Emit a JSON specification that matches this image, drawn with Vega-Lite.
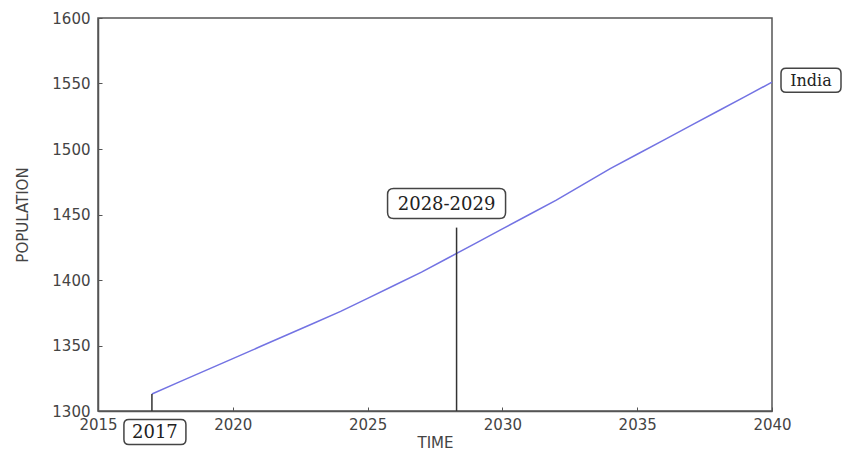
{
  "$schema": "https://vega.github.io/schema/vega-lite/v6.json",
  "autosize": "none",
  "width": 674,
  "height": 393,
  "padding": {"left": 98, "top": 18, "right": 71, "bottom": 39},
  "background": "white",
  "config": {
    "view": {"stroke": "#555", "strokeWidth": 1.5},
    "axis": {
      "grid": false,
      "domainColor": "#555",
      "domainWidth": 1.5,
      "tickColor": "#555",
      "tickSize": -4,
      "labelFlush": false,
      "labelFont": "DejaVu Sans",
      "labelFontSize": 15,
      "labelColor": "#444",
      "titleFont": "DejaVu Sans",
      "titleFontSize": 15,
      "titleFontWeight": "normal",
      "titleColor": "#444"
    }
  },
  "datasets": {
    "india": [
      {"year": 2017, "population": 1313},
      {"year": 2018, "population": 1322},
      {"year": 2019, "population": 1331},
      {"year": 2020, "population": 1340},
      {"year": 2021, "population": 1349},
      {"year": 2022, "population": 1358},
      {"year": 2023, "population": 1367},
      {"year": 2024, "population": 1376},
      {"year": 2025, "population": 1386},
      {"year": 2026, "population": 1396},
      {"year": 2027, "population": 1406},
      {"year": 2028, "population": 1417},
      {"year": 2029, "population": 1428},
      {"year": 2030, "population": 1439},
      {"year": 2031, "population": 1450},
      {"year": 2032, "population": 1461},
      {"year": 2033, "population": 1473},
      {"year": 2034, "population": 1485},
      {"year": 2035, "population": 1496},
      {"year": 2036, "population": 1507},
      {"year": 2037, "population": 1518},
      {"year": 2038, "population": 1529},
      {"year": 2039, "population": 1540},
      {"year": 2040, "population": 1551}
    ],
    "markers": [
      {"year": 2017, "from": 1300, "to": 1313},
      {"year": 2028.3, "from": 1300, "to": 1440}
    ],
    "notes": [
      {"label": "2017", "year": 2017, "population": 1300},
      {"label": "2028-2029", "year": 2028.3, "population": 1440},
      {"label": "India", "year": 2040, "population": 1551}
    ]
  },
  "encoding": {
    "x": {
      "field": "year",
      "type": "quantitative",
      "scale": {"domain": [2015, 2040], "nice": false, "zero": false},
      "axis": {"title": "TIME", "values": [2015, 2020, 2025, 2030, 2035, 2040], "format": "d", "labelPadding": 10, "titlePadding": 3}
    },
    "y": {
      "field": "population",
      "type": "quantitative",
      "scale": {"domain": [1300, 1600], "nice": false, "zero": false},
      "axis": {"title": "POPULATION", "values": [1300, 1350, 1400, 1450, 1500, 1550, 1600], "format": "d", "labelPadding": 12, "titlePadding": 21}
    }
  },
  "layer": [
    {
      "data": {"name": "india"},
      "mark": {"type": "line", "color": "#7373e3", "strokeWidth": 1.5},
      "encoding": {}
    },
    {
      "data": {"name": "markers"},
      "mark": {"type": "rule", "color": "#333", "strokeWidth": 1.5},
      "encoding": {
        "y": {"field": "from", "type": "quantitative"},
        "y2": {"field": "to"}
      }
    },
    {
      "data": {"name": "notes"},
      "transform": [{"filter": "datum.label === '2017'"}],
      "mark": {"type": "point", "filled": true, "fill": "white", "opacity": 1, "stroke": "#444", "strokeWidth": 1.5, "size": 4, "xOffset": 3, "yOffset": 21,
        "shape": "M-26,-12.5H26Q31,-12.5 31,-7.5V7.5Q31,12.5 26,12.5H-26Q-31,12.5 -31,7.5V-7.5Q-31,-12.5 -26,-12.5Z"},
      "encoding": {}
    },
    {
      "data": {"name": "notes"},
      "transform": [{"filter": "datum.label === '2028-2029'"}],
      "mark": {"type": "point", "filled": true, "fill": "white", "opacity": 1, "stroke": "#444", "strokeWidth": 1.5, "size": 4, "xOffset": -10, "yOffset": -24,
        "shape": "M-53,-15H53Q59,-15 59,-9V9Q59,15 53,15H-53Q-59,15 -59,9V-9Q-59,-15 -53,-15Z"},
      "encoding": {}
    },
    {
      "data": {"name": "notes"},
      "transform": [{"filter": "datum.label === 'India'"}],
      "mark": {"type": "point", "filled": true, "fill": "white", "opacity": 1, "stroke": "#444", "strokeWidth": 1.5, "size": 4, "xOffset": 39, "yOffset": -2,
        "shape": "M-25,-12H25Q30,-12 30,-7V7Q30,12 25,12H-25Q-30,12 -30,7V-7Q-30,-12 -25,-12Z"},
      "encoding": {}
    },
    {
      "data": {"name": "notes"},
      "transform": [{"filter": "datum.label === '2017'"}],
      "mark": {"type": "text", "font": "DejaVu Serif", "fontSize": 18, "color": "#222", "align": "center", "baseline": "middle", "dx": 3, "dy": 22},
      "encoding": {"text": {"field": "label"}}
    },
    {
      "data": {"name": "notes"},
      "transform": [{"filter": "datum.label === '2028-2029'"}],
      "mark": {"type": "text", "font": "DejaVu Serif", "fontSize": 18, "color": "#222", "align": "center", "baseline": "middle", "dx": -10, "dy": -23},
      "encoding": {"text": {"field": "label"}}
    },
    {
      "data": {"name": "notes"},
      "transform": [{"filter": "datum.label === 'India'"}],
      "mark": {"type": "text", "font": "DejaVu Serif", "fontSize": 16, "color": "#222", "align": "center", "baseline": "middle", "dx": 39, "dy": -1},
      "encoding": {"text": {"field": "label"}}
    }
  ]
}
